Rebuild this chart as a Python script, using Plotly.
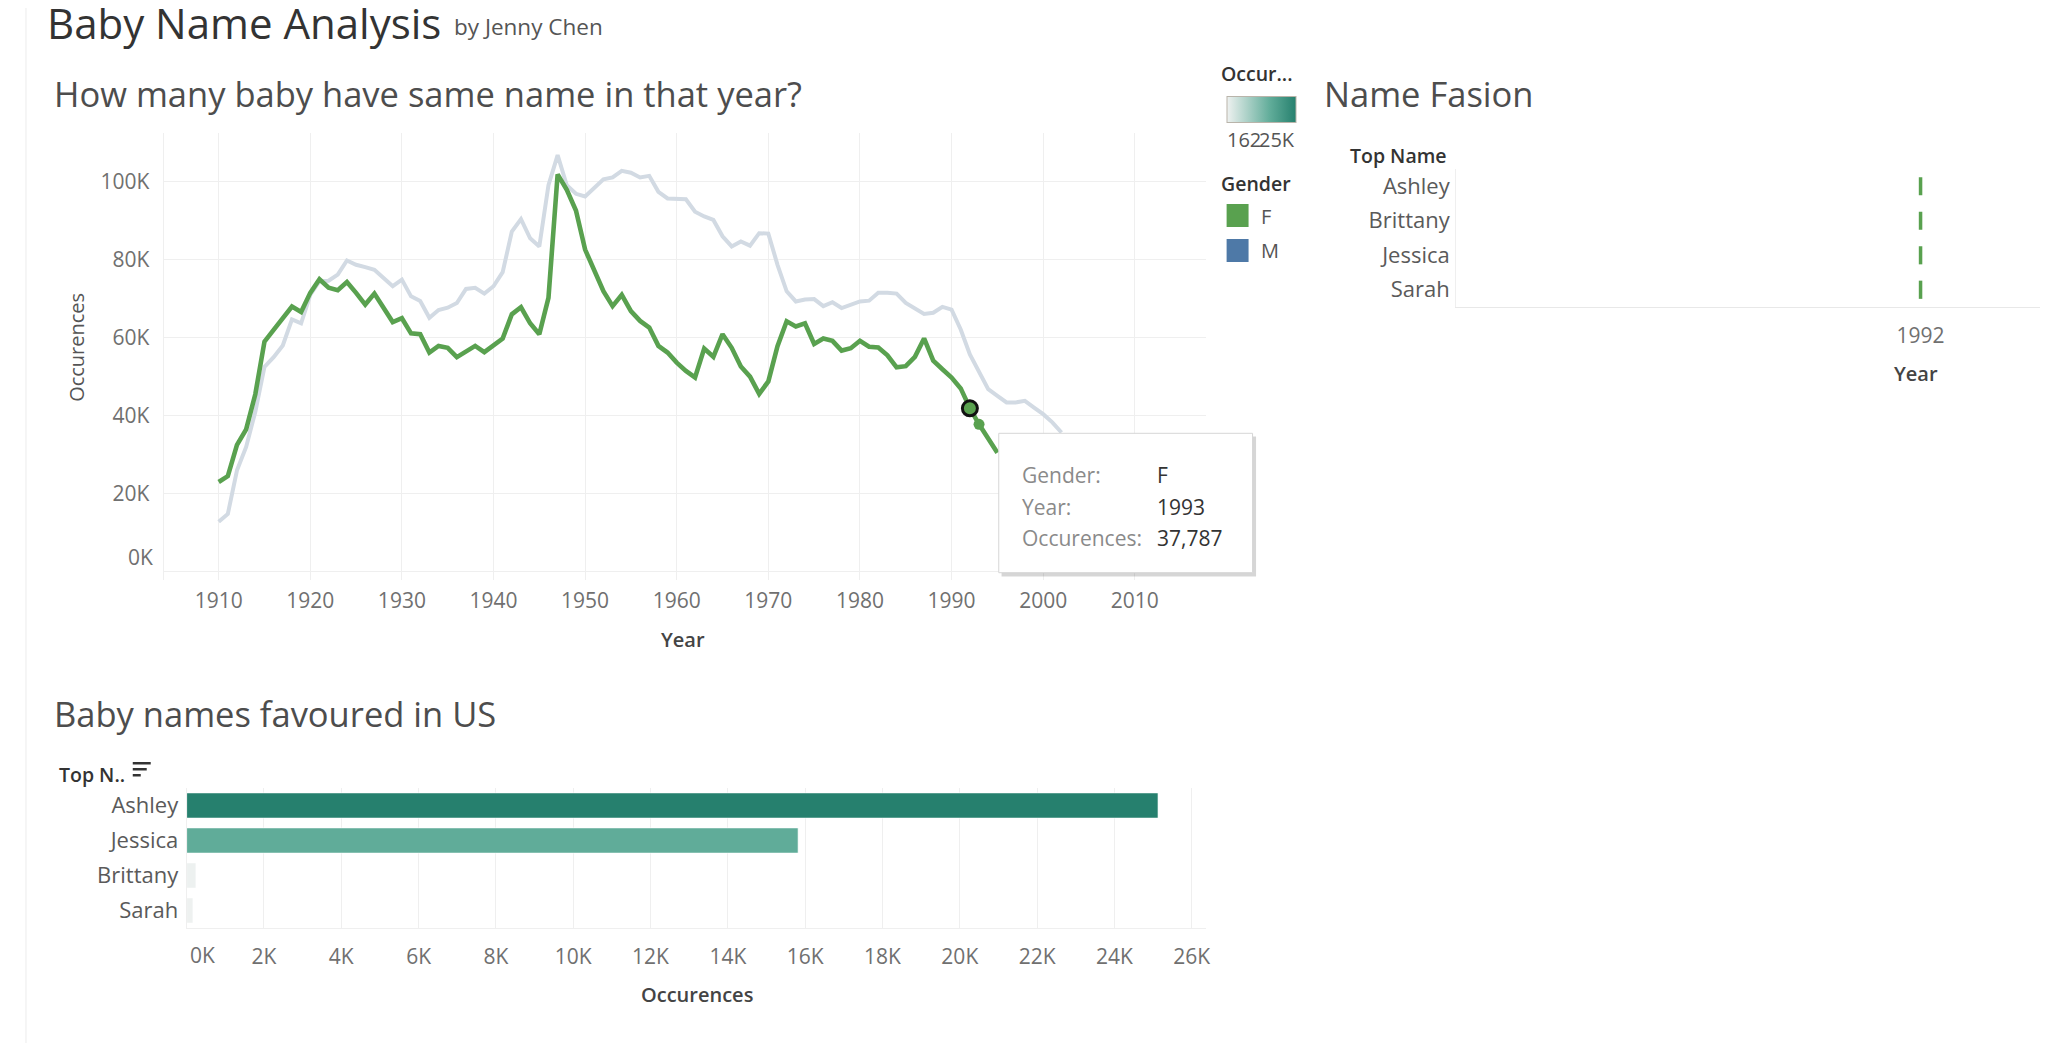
import plotly.graph_objects as go

# The page body has an 8px margin, so the figure is drawn 8px smaller and all
# reference pixel positions are shifted by that margin.
OFF = 8
W, H = 2048 - OFF, 1043 - OFF
def px(x): return (x - OFF) / W
def py(y): return 1 - (y - OFF) / H

FONT = "Open Sans"
GREEN = "#59a14f"
BLUE = "#4e79a7"
GREY_LINE = "#d2dae3"
GRID = "#efefef"
TICK = "#707070"
DARK = "#333333"

# ---------------- data ----------------
years_f = list(range(1910, 1996))
occ_f = [23000, 24500, 32500, 36500, 45500, 59000, 62000, 65000, 68000, 66600,
         71500, 75000, 72800, 72200, 74300, 71500, 68500, 71300, 67500, 64000,
         65000, 61100, 60900, 56200, 57900, 57400, 55000, 56500, 57900, 56300,
         57900, 59800, 66000, 67800, 63700, 60900, 70200, 101900, 97900, 92600,
         82600, 77000, 71900, 68100, 71000, 66800, 64300, 62600, 57900, 56200,
         53600, 51500, 49800, 57200, 55100, 60900, 57400, 52600, 50000, 45600,
         48800, 57800, 64200, 62900, 63700, 58400, 59800, 59200, 56700, 57300,
         59200, 57700, 57500, 55500, 52400, 52700, 55100, 59800, 54100, 51900,
         49800, 47000, 41900, 37787, 34000, 30500]

years_m = list(range(1910, 2003))
occ_m = [12800, 14800, 26000, 32000, 41000, 52500, 55000, 58000, 64700, 63700,
         71000, 74500, 74600, 76200, 79800, 78700, 78100, 77400, 75300, 73200,
         74900, 70600, 69400, 65100, 67100, 67700, 68900, 72500, 72800, 71300,
         73200, 76800, 87200, 90400, 85500, 83400, 99100, 106800, 99100, 96900,
         96200, 98300, 100600, 101100, 102800, 102300, 101100, 101500, 97400, 95700,
         95700, 95500, 92300, 91100, 90200, 86000, 83400, 84700, 83600, 86800,
         86700, 78700, 71900, 69300, 69800, 69900, 68100, 69100, 67600, 68500,
         69300, 69500, 71500, 71500, 71300, 68900, 67600, 66100, 66400, 67900,
         67200, 62100, 55700, 51000, 46800, 45100, 43400, 43400, 43800, 42100,
         40400, 38300, 35700]

selected_year = 1992
hover_year = 1993

year_ticks = [1910, 1920, 1930, 1940, 1950, 1960, 1970, 1980, 1990, 2000, 2010]
occ_ticks = [0, 20000, 40000, 60000, 80000, 100000]
occ_tick_text = ["0K", "20K", "40K", "60K", "80K", "100K"]

fashion_names = ["Ashley", "Brittany", "Jessica", "Sarah"]
fashion_years = [1992, 1992, 1992, 1992]

top_names = ["Ashley", "Jessica", "Brittany", "Sarah"]
top_occ = [25128, 15817, 240, 162]
bar_ticks = list(range(0, 26001, 2000))
bar_tick_text = [f"{v // 1000}K" for v in bar_ticks]

# ---------------- figure ----------------
fig = go.Figure()

fig.add_trace(go.Scatter(x=years_m, y=occ_m, mode="lines", name="M",
                         line=dict(color=GREY_LINE, width=4), hoverinfo="skip",
                         xaxis="x", yaxis="y"))
fig.add_trace(go.Scatter(x=years_f, y=occ_f, mode="lines", name="F",
                         line=dict(color=GREEN, width=4.6), hoverinfo="skip",
                         xaxis="x", yaxis="y"))
i_sel = years_f.index(selected_year)
i_hov = years_f.index(hover_year)
fig.add_trace(go.Scatter(x=[hover_year], y=[occ_f[i_hov]], mode="markers",
                         marker=dict(color=GREEN, size=11), xaxis="x", yaxis="y"))
fig.add_trace(go.Scatter(x=[selected_year], y=[occ_f[i_sel]], mode="markers",
                         marker=dict(color=GREEN, size=15, line=dict(color="#111111", width=3)),
                         xaxis="x", yaxis="y"))

fig.add_trace(go.Scatter(x=fashion_years, y=fashion_names, mode="markers",
                         marker=dict(symbol="line-ns", size=13,
                                     line=dict(color=GREEN, width=3.5)),
                         xaxis="x2", yaxis="y2"))

fig.add_trace(go.Bar(x=top_occ, y=top_names, orientation="h",
                     marker=dict(color=top_occ, cmin=min(top_occ), cmax=max(top_occ),
                                 colorscale=[[0, "#eef1f0"], [0.627, "#60ac99"], [1, "#26806e"]],
                                 line=dict(color="rgba(255,255,255,0.6)", width=1),
                                 showscale=True,
                                 colorbar=dict(orientation="h", lenmode="pixels", len=69,
                                               thickness=26, x=px(1263.8), y=py(109.7),
                                               xanchor="center", yanchor="middle",
                                               xpad=0, ypad=0,
                                               showticklabels=False, ticks="",
                                               outlinecolor="#b9b4aa", outlinewidth=1)),
                     width=0.72, xaxis="x3", yaxis="y3", hoverinfo="skip"))

axis_font = dict(family=FONT, size=21, color=TICK)
label_font = dict(family=FONT, size=22, color="#5a5a5a")

fig.update_layout(
    width=W, height=H, autosize=False,
    margin=dict(l=0, r=0, t=0, b=0),
    paper_bgcolor="white", plot_bgcolor="white",
    showlegend=False,
    font=dict(family=FONT, color=DARK),
    xaxis=dict(domain=[px(164), px(1208.6)], range=[1904, 2017.8],
               tickvals=year_ticks, showgrid=True, gridcolor=GRID, gridwidth=1,
               zeroline=False, showline=False, ticks="", tickfont=axis_font,
               ticklabelstandoff=6, anchor="y"),
    yaxis=dict(domain=[py(580), py(133)], range=[-2130, 112490],
               tickvals=occ_ticks, ticktext=[""] + occ_tick_text[1:],
               showgrid=True, gridcolor=GRID, gridwidth=1,
               zeroline=False, showline=True, linecolor=GRID, linewidth=1,
               ticks="", tickfont=axis_font, ticklabelstandoff=9, anchor="x"),
    xaxis2=dict(domain=[px(1459), 1.0], range=[1984.1, 1994.1],
                tickvals=[1992], showgrid=False, zeroline=False,
                showline=True, linecolor="#e8e8e8", linewidth=1,
                ticks="", tickfont=axis_font, ticklabelstandoff=10, anchor="y2"),
    yaxis2=dict(domain=[py(307), py(169)], type="category",
                categoryorder="array", categoryarray=fashion_names[::-1],
                range=[-0.5, 3.5], autorange=False,
                showgrid=False, zeroline=False,
                showline=True, linecolor="#efefef", linewidth=1,
                ticks="", tickfont=label_font, ticklabelstandoff=1, anchor="x2"),
    xaxis3=dict(domain=[px(187), px(1208.4)], range=[0, 26370],
                tickvals=bar_ticks, ticktext=[""] + bar_tick_text[1:],
                showgrid=True, gridcolor=GRID, gridwidth=1,
                zeroline=False, showline=True, linecolor=GRID, linewidth=1,
                ticks="", tickfont=axis_font, ticklabelstandoff=10, anchor="y3"),
    yaxis3=dict(domain=[py(928), py(788)], type="category",
                categoryorder="array", categoryarray=top_names[::-1],
                range=[-0.5, 3.5], autorange=False,
                showgrid=False, zeroline=False, showline=True, linecolor=GRID,
                ticks="", tickfont=label_font, ticklabelstandoff=3, anchor="x3"),
)

ann = []
def text(x, y, s, size, color=DARK, xanchor="left", weight=None, angle=0):
    f = dict(family=FONT, size=size, color=color)
    if weight:
        f["weight"] = weight
    ann.append(dict(x=px(x), y=py(y), xref="paper", yref="paper", text=s,
                    showarrow=False, xanchor=xanchor, yanchor="middle",
                    font=f, textangle=angle))

# titles
text(45, 23, "Baby Name Analysis", 42, "#333333")
text(453, 26, "by Jenny Chen", 22.5, "#555555")
text(52, 93, "How many baby have same name in that year?", 34.5, "#4d4d4d")
text(1325, 93, "Name Fasion", 34.5, "#4d4d4d")
text(52, 713, "Baby names favoured in US", 34.5, "#4d4d4d")

# axis titles
text(684, 639, "Year", 20, "#444444", "center", 600)
text(76, 347, "Occurences", 20, "#555555", "center", angle=-90)
text(1920, 373, "Year", 20, "#444444", "center", 600)
text(698, 994, "Occurences", 20, "#444444", "center", 600)
text(1452, 155, "Top Name", 19.5, "#333333", "right", 600)
text(57, 774, "Top N..", 19.5, "#333333", "left", 600)

# zero labels kept inside their panes, as in the reference
text(155, 557, occ_tick_text[0], 21, TICK, "right")
text(203, 955, bar_tick_text[0], 21, TICK, "center")

# legends
text(1221, 73, "Occur...", 19.5, "#333333", "left", 600)
text(1227, 140, f"{min(top_occ)}", 20, "#555555", "left")
text(1300, 140, f"{round(max(top_occ) / 1000)}K", 20, "#555555", "right")
text(1221, 184, "Gender", 19.5, "#333333", "left", 600)
text(1261, 216, "F", 20, "#555555", "left")
text(1261, 250, "M", 20, "#555555", "left")

# tooltip
hv = occ_f[i_hov]
tip_rows = [("Gender:", "F", 475), ("Year:", str(hover_year), 507), ("Occurences:", f"{hv:,}", 538)]
for lab, val, yy in tip_rows:
    text(1022, yy, lab, 21, "#8a8a8a", "left")
    text(1157, yy, val, 21, "#333333", "left")

fig.update_layout(annotations=ann)

shapes = []
def rect(x0, y0, x1, y1, fill, line=None, lw=0, layer="above"):
    shapes.append(dict(type="rect", xref="paper", yref="paper",
                       x0=px(x0), x1=px(x1), y0=py(y1), y1=py(y0),
                       fillcolor=fill, line=dict(color=line or fill, width=lw),
                       layer=layer))

shapes.append(dict(type="line", xref="paper", yref="paper", x0=px(26), x1=px(26),
                   y0=0, y1=1, line=dict(color="#ececec", width=1)))
rect(1229, 204, 1251, 227, GREEN)
rect(1229, 239, 1251, 262, BLUE)
rect(133, 762, 151, 764.5, "#333333")
rect(133, 768, 147, 770.5, "#333333")
rect(133, 774, 141, 776.5, "#333333")
rect(1003.5, 436.5, 1258.5, 576.5, "rgba(0,0,0,0.16)")
rect(1000.7, 433.3, 1255, 572.7, "white", "#d6d6d6", 1)

fig.update_layout(shapes=shapes)

fig.write_html("out.html")
